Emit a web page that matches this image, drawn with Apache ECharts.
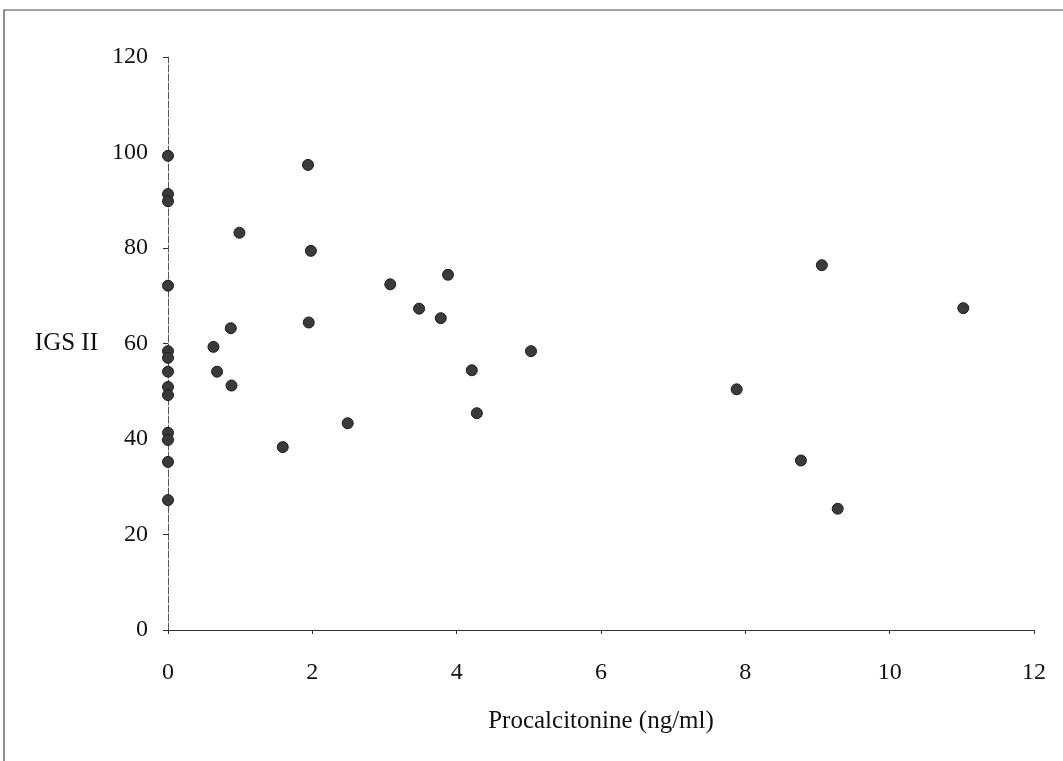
<!DOCTYPE html>
<html>
<head>
<meta charset="utf-8">
<script src="https://cdn.jsdelivr.net/npm/echarts@6/dist/echarts.min.js"></script>
<style>
  html, body { margin: 0; padding: 0; background: #fff; }
  #container { width: 1063px; height: 761px; }
</style>
</head>
<body>
<div id="container"></div>
<script>
// PCT (ng/ml) vs IGS II score
var pct = [
    0, 0, 0, 0, 0, 0, 0, 0, 0, 0, 0, 0, 0,
    0.63, 0.68, 0.87, 0.88, 0.99, 1.59, 1.94, 1.98, 1.95, 2.49,
    3.08, 3.48, 3.78, 3.88, 4.21, 4.28, 5.03,
    7.88, 8.77, 9.06, 9.28, 11.02
];
var igs = [
    99.3, 91.3, 89.8, 72.1, 58.4, 57.0, 54.1, 50.9, 49.2, 41.3, 39.8, 35.2, 27.2,
    59.3, 54.1, 63.2, 51.2, 83.2, 38.3, 97.4, 79.4, 64.4, 43.3,
    72.4, 67.3, 65.3, 74.4, 54.4, 45.4, 58.4,
    50.4, 35.5, 76.4, 25.4, 67.4
];

var xTicks = [0, 2, 4, 6, 8, 10, 12];
var yTicks = [0, 20, 40, 60, 80, 100, 120];

var points = pct.map(function (x, i) { return [x, igs[i]]; });

var dom = document.getElementById("container");
var myChart = echarts.init(dom);
var serif = "'Liberation Serif', 'DejaVu Serif', serif";

var option = {
    backgroundColor: '#fff',
    animation: false,
    textStyle: { fontFamily: serif },
    graphic: [
        {
            type: 'rect',
            shape: { x: 4, y: 10, width: 1075, height: 780 },
            style: { fill: 'none', stroke: '#444', lineWidth: 1.2 },
            silent: true
        }
    ],
    grid: { left: 168, right: 29, top: 57, bottom: 131 },
    xAxis: {
        type: 'value',
        min: xTicks[0],
        max: xTicks[xTicks.length - 1],
        interval: 2,
        name: 'Procalcitonine (ng/ml)',
        nameLocation: 'middle',
        nameGap: 79,
        nameTextStyle: { fontFamily: serif, fontSize: 25, color: '#111' },
        axisLine: { show: true, lineStyle: { color: '#333', width: 1.2 } },
        axisTick: { show: true, length: 4, lineStyle: { color: '#333' } },
        axisLabel: { fontFamily: serif, fontSize: 24, color: '#111', margin: 31 },
        splitLine: { show: false }
    },
    yAxis: {
        type: 'value',
        min: yTicks[0],
        max: yTicks[yTicks.length - 1],
        interval: 20,
        name: 'IGS II',
        nameLocation: 'middle',
        nameRotate: 0,
        nameGap: 70,
        nameTextStyle: { fontFamily: serif, fontSize: 25, color: '#111' },
        axisLine: { show: true, lineStyle: { color: '#555', width: 1, type: [7, 2] } },
        axisTick: { show: true, length: 5, lineStyle: { color: '#333' } },
        axisLabel: { fontFamily: serif, fontSize: 24, color: '#111', margin: 20 },
        splitLine: { show: false }
    },
    series: [
        {
            type: 'scatter',
            data: points,
            symbol: 'circle',
            symbolSize: 11,
            itemStyle: { color: '#3a3a3a', borderColor: '#1e1e1e', borderWidth: 1, opacity: 1 }
        }
    ]
};
myChart.setOption(option);
</script>
</body>
</html>
